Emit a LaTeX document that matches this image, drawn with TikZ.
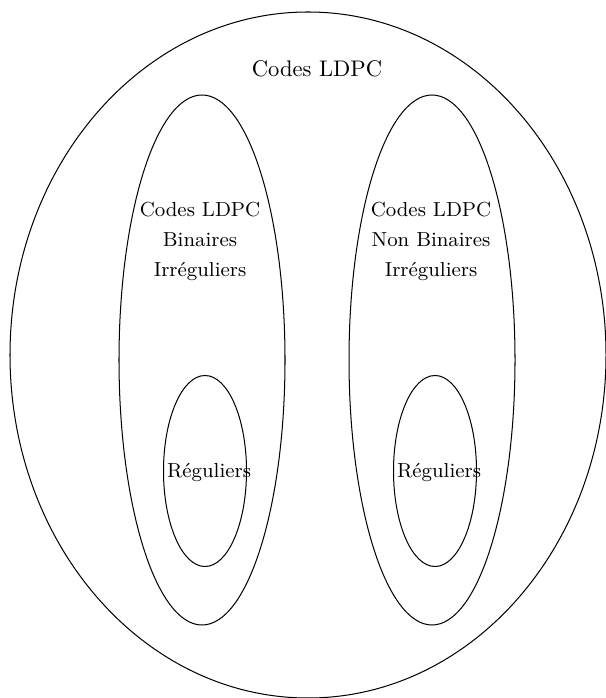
\documentclass[tikz,border=0pt]{standalone}
\usetikzlibrary{shapes.geometric}
\begin{document}
\begin{tikzpicture}[x=0.443pt,y=-0.443pt,
  set/.style={draw,ellipse,inner sep=0pt,line width=0.45pt},
  lbl/.style={anchor=base,inner sep=0pt,font=\fontsize{10}{12}\selectfont},
  sub/.style={anchor=base,inner sep=0pt,font=\fontsize{9}{11}\selectfont}]
\useasboundingbox (0,0) rectangle (605,698);
\node[set,minimum width=596*0.443pt,minimum height=686*0.443pt] (all) at (308,355) {};
\node[set,minimum width=166*0.443pt,minimum height=530*0.443pt] (bin) at (202,360) {};
\node[set,minimum width=166*0.443pt,minimum height=530*0.443pt] (nbin) at (432,360) {};
\node[set,minimum width=83*0.443pt,minimum height=191*0.443pt] (rbin) at (205,471) {};
\node[set,minimum width=83*0.443pt,minimum height=191*0.443pt] (rnbin) at (435,471) {};
\node[lbl] (t) at (317,77) {Codes LDPC};
\node[sub] (b1) at (200,217) {Codes LDPC};
\node[sub] (b2) at (200,247) {Binaires};
\node[sub] (b3) at (200,277) {Irréguliers};
\node[sub] (n1) at (431,217) {Codes LDPC};
\node[sub] (n2) at (431,247) {Non Binaires};
\node[sub] (n3) at (431,277) {Irréguliers};
\node[sub] (r1) at (209,477) {Réguliers};
\node[sub] (r2) at (439,477) {Réguliers};
\end{tikzpicture}
\end{document}
